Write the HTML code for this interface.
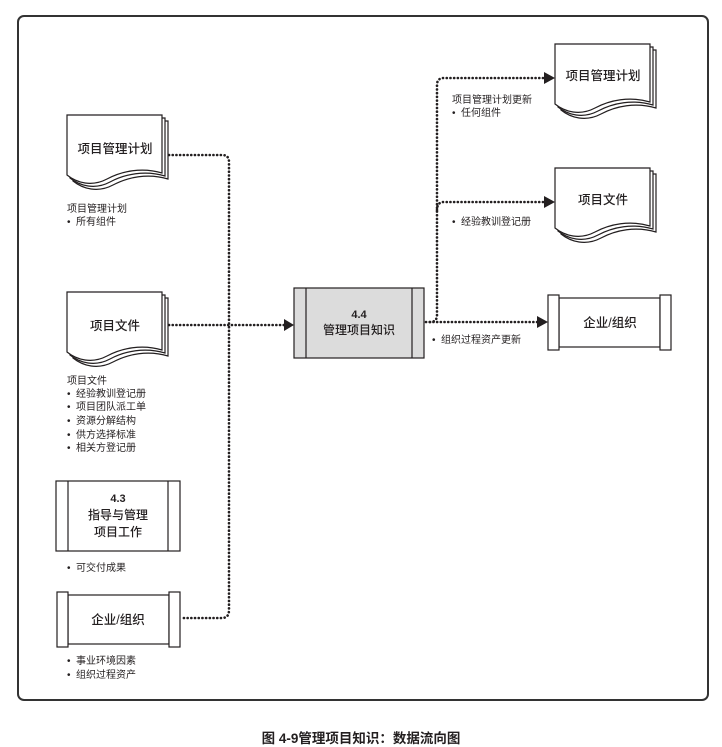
<!DOCTYPE html>
<html><head><meta charset="utf-8"><style>
html,body{margin:0;padding:0;background:#fff;}
svg{display:block;}
text{font-family:"Liberation Sans","Noto Sans CJK SC",sans-serif;fill:#231f20;}
.n{font-weight:500;}
</style></head><body>
<svg width="722" height="747" viewBox="0 0 722 747" xmlns="http://www.w3.org/2000/svg">
<defs>
<g id="page"><path d="M0,0 H95 V58 C75,52 55,56 40,64 C25,72 10,68 0,60 Z" fill="#fff" stroke="#231f20" stroke-width="1.2"/></g>
<g id="doc">
<use href="#page" x="6" y="6"/>
<use href="#page" x="3" y="3"/>
<use href="#page" x="0" y="0"/>
</g>
</defs>
<rect x="18" y="16" width="690" height="684" rx="6" fill="none" stroke="#333" stroke-width="2"/>

<use href="#doc" x="67" y="115"/>
<text class="n" x="115" y="153" font-size="12.5" text-anchor="middle">项目管理计划</text>
<text x="67" y="212" font-size="10">项目管理计划</text>
<text x="67" y="225" font-size="10">•&#160;&#160;所有组件</text>

<use href="#doc" x="67" y="292"/>
<text class="n" x="115" y="330" font-size="12.5" text-anchor="middle">项目文件</text>
<text x="67" y="384" font-size="10">项目文件</text>
<text x="67" y="397" font-size="10">•&#160;&#160;经验教训登记册</text>
<text x="67" y="410" font-size="10">•&#160;&#160;项目团队派工单</text>
<text x="67" y="424" font-size="10">•&#160;&#160;资源分解结构</text>
<text x="67" y="438" font-size="10">•&#160;&#160;供方选择标准</text>
<text x="67" y="451" font-size="10">•&#160;&#160;相关方登记册</text>

<rect x="56" y="481" width="124" height="70" fill="#fff" stroke="#231f20" stroke-width="1.2"/>
<line x1="68" y1="481" x2="68" y2="551" stroke="#231f20" stroke-width="1.2"/>
<line x1="168" y1="481" x2="168" y2="551" stroke="#231f20" stroke-width="1.2"/>
<text x="118" y="502" font-size="11" text-anchor="middle" font-weight="bold">4.3</text>
<text class="n" x="118" y="519" font-size="12" text-anchor="middle">指导与管理</text>
<text class="n" x="118" y="536" font-size="12" text-anchor="middle">项目工作</text>
<text x="67" y="571" font-size="10">•&#160;&#160;可交付成果</text>

<rect x="68" y="595" width="101" height="49" fill="#fff" stroke="#231f20" stroke-width="1.2"/>
<rect x="57" y="592" width="11" height="55" fill="#fff" stroke="#231f20" stroke-width="1.2"/>
<rect x="169" y="592" width="11" height="55" fill="#fff" stroke="#231f20" stroke-width="1.2"/>
<text class="n" x="118" y="624" font-size="12.5" text-anchor="middle">企业/组织</text>
<text x="67" y="664" font-size="10">•&#160;&#160;事业环境因素</text>
<text x="67" y="678" font-size="10">•&#160;&#160;组织过程资产</text>

<g fill="none" stroke="#231f20" stroke-width="2.6" stroke-dasharray="0.1 3.6" stroke-linecap="round">
<path d="M169,155 H222 Q229,155 229,162 V610 Q229,618 222,618 H182"/>
<path d="M169,325 H284"/>
</g>
<path d="M284,319 L294,325 L284,331 Z" fill="#231f20"/>

<rect x="294" y="288" width="130" height="70" fill="#dcdcdc" stroke="#231f20" stroke-width="1.2"/>
<line x1="306" y1="288" x2="306" y2="358" stroke="#231f20" stroke-width="1.2"/>
<line x1="412" y1="288" x2="412" y2="358" stroke="#231f20" stroke-width="1.2"/>
<text x="359" y="318" font-size="11" text-anchor="middle" font-weight="bold">4.4</text>
<text class="n" x="359" y="334" font-size="12" text-anchor="middle">管理项目知识</text>

<g fill="none" stroke="#231f20" stroke-width="2.6" stroke-dasharray="0.1 3.6" stroke-linecap="round">
<path d="M426,322 H538"/>
<path d="M430,322 Q437,322 437,315 V85 Q437,78 444,78 H545"/>
<path d="M437,210 Q437,202 444,202 H545"/>
</g>
<path d="M537,316 L548,322 L537,328 Z" fill="#231f20"/>
<path d="M544,72 L555,78 L544,84 Z" fill="#231f20"/>
<path d="M544,196 L555,202 L544,208 Z" fill="#231f20"/>

<text x="452" y="103" font-size="10">项目管理计划更新</text>
<text x="452" y="116" font-size="10">•&#160;&#160;任何组件</text>
<text x="452" y="225" font-size="10">•&#160;&#160;经验教训登记册</text>
<text x="432" y="343" font-size="10">•&#160;&#160;组织过程资产更新</text>

<use href="#doc" x="555" y="44"/>
<text class="n" x="603" y="80" font-size="12.5" text-anchor="middle">项目管理计划</text>
<use href="#doc" x="555" y="168"/>
<text class="n" x="603" y="204" font-size="12.5" text-anchor="middle">项目文件</text>

<rect x="559" y="298" width="101" height="49" fill="#fff" stroke="#231f20" stroke-width="1.2"/>
<rect x="548" y="295" width="11" height="55" fill="#fff" stroke="#231f20" stroke-width="1.2"/>
<rect x="660" y="295" width="11" height="55" fill="#fff" stroke="#231f20" stroke-width="1.2"/>
<text class="n" x="610" y="327" font-size="12.5" text-anchor="middle">企业/组织</text>

<text x="361" y="743" font-size="13.5" text-anchor="middle" font-weight="bold">图 4-9管理项目知识：数据流向图</text>
</svg>
</body></html>
